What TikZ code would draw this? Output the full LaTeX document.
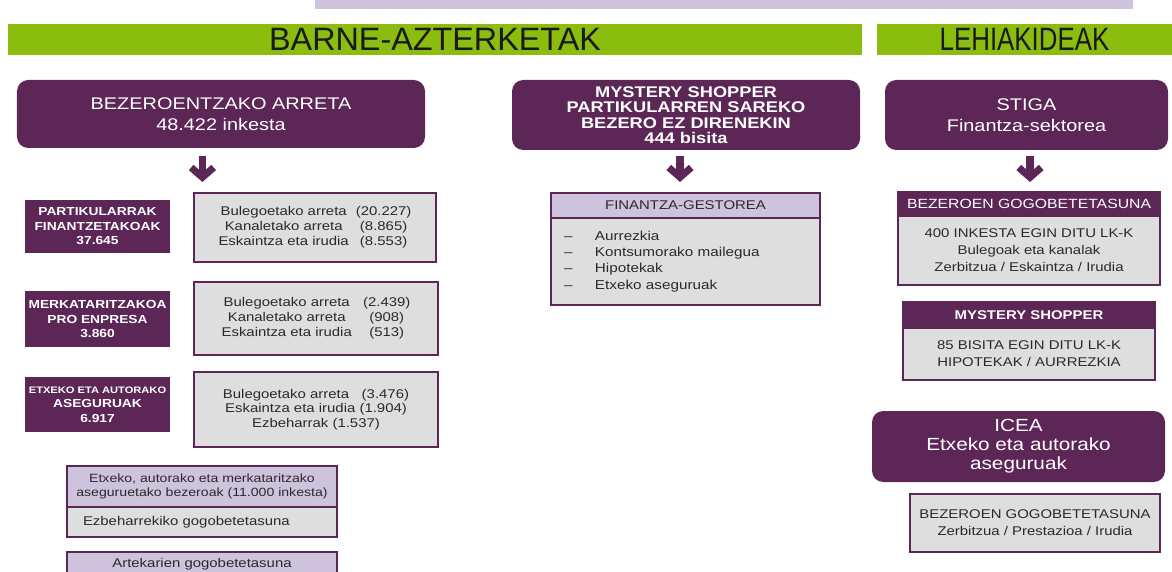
\documentclass[tikz,border=0pt]{standalone}
\usepackage{fontspec}
\setmainfont{Liberation Sans}[FakeStretch=1.18]
\newfontfamily\plainsans{Liberation Sans}
\newfontfamily\condsans{Liberation Sans}[FakeStretch=0.8]
\usetikzlibrary{positioning,arrows.meta}
\definecolor{purp}{RGB}{92,38,86}
\definecolor{lav}{RGB}{206,195,220}
\definecolor{lime}{RGB}{138,189,14}
\definecolor{boxgray}{RGB}{222,222,222}
\definecolor{ink}{RGB}{45,40,45}
\tikzset{
  band/.style  = {fill=lime, minimum height=0.775cm, inner sep=0pt,
                  text=black!90, font=\plainsans\fontsize{23}{26}\selectfont},
  mroot/.style = {rounded corners=8pt, fill=purp, text=white, align=center,
                  inner sep=2pt, font=\fontsize{12}{15}\selectfont},
  mtag/.style  = {fill=purp, text=white, align=center, inner sep=1pt,
                  minimum width=3.625cm, font=\bfseries\fontsize{8.3}{10.3}\selectfont},
  % boxes with a purple frame; outer sep 0 so stacked boxes share one edge
  gbox/.style  = {fill=boxgray, draw=purp, line width=1.6pt, outer sep=0pt,
                  align=center, inner sep=2pt, text=ink,
                  font=\fontsize{9}{10.5}\selectfont},
  hlav/.style  = {gbox, fill=lav},
  hpurp/.style = {gbox, fill=purp, text=white},
  chev/.style  = {draw=purp, line width=5pt,
                  -{Straight Barb[length=7pt, width=16pt]}},
}
\begin{document}
\begin{tikzpicture}
  \useasboundingbox (0,0) rectangle (29.3,-14.3);

  \node[fill=lav, minimum width=20.45cm, minimum height=0.225cm, inner sep=0pt,
        anchor=north west] (topbar) at (7.875,0) {};
  \node[band, minimum width=21.35cm] (barne) at (10.875,-0.99) {BARNE-AZTERKETAK};
  \node[band, minimum width=7.375cm, font=\condsans\fontsize{23}{26}\selectfont]
    (lehia) at (25.6125,-0.99) {LEHIAKIDEAK};

  % left column
  \node[mroot, minimum width=10.2cm, minimum height=1.7cm] (bez) at (5.525,-2.85)
    {BEZEROENTZAKO ARRETA\\48.422 inkesta};
  \coordinate (a1) at (5.06,-3.9);
  \coordinate (a1e) at (5.06,-4.55);
  \draw[chev] (a1) -- (a1e);

  \node[mtag, minimum height=1.325cm] (part) at (2.4375,-5.6625)
    {PARTIKULARRAK\\FINANTZETAKOAK\\37.645};
  \node[gbox, minimum width=6.05cm, minimum height=1.725cm] (part-d) at (7.875,-5.6875)
    {\begin{tabular}{@{}c@{\hspace{5pt}}c@{}}
      Bulegoetako arreta & (20.227)\\ Kanaletako arreta & (8.865)\\
      Eskaintza eta irudia & (8.553)\end{tabular}};

  \node[mtag, minimum height=1.4cm] (merk) at (2.4375,-7.975)
    {MERKATARITZAKOA\\PRO ENPRESA\\3.860};
  \node[gbox, minimum width=6.1cm, minimum height=1.825cm] (merk-d) at (7.9,-7.9625)
    {\begin{tabular}{@{}c@{\hspace{8pt}}c@{}}
      Bulegoetako arreta & (2.439)\\ Kanaletako arreta & (908)\\
      Eskaintza eta irudia & (513)\end{tabular}};

  \node[mtag, minimum height=1.375cm] (etx) at (2.4375,-10.1125)
    {{\fontsize{6.7}{10.3}\selectfont ETXEKO ETA AUTORAKO}\\ASEGURUAK\\6.917};
  \node[gbox, minimum width=6.1cm, minimum height=1.875cm] (etx-d) at (7.9,-10.2375)
    {Bulegoetako arreta\quad(3.476)\\Eskaintza eta irudia (1.904)\\Ezbeharrak (1.537)};

  \node[hlav, minimum width=6.75cm, minimum height=1.025cm,
        font=\fontsize{8.5}{9.8}\selectfont] (ins) at (5.05,-12.1625)
    {Etxeko, autorako eta merkataritzako\\aseguruetako bezeroak (11.000 inkesta)};
  \node[gbox, below=0pt of ins, minimum width=6.75cm, minimum height=0.75cm,
        text width=5.95cm, inner xsep=0.4cm, align=left] (ins-d)
    {Ezbeharrekiko gogobetetasuna};
  \node[hlav, minimum width=6.75cm, minimum height=0.6cm, anchor=north] (artek)
    at (5.05,-13.8) {Artekarien gogobetetasuna};

  % middle column
  \node[mroot, minimum width=8.7cm, minimum height=1.75cm,
        font=\bfseries\fontsize{11}{11}\selectfont] (mys) at (17.15,-2.875)
    {MYSTERY SHOPPER\\PARTIKULARREN SAREKO\\BEZERO EZ DIRENEKIN\\444 bisita};
  \coordinate (a2) at (17.0,-3.9);
  \coordinate (a2e) at (17.0,-4.55);
  \draw[chev] (a2) -- (a2e);

  \node[hlav, minimum width=6.725cm, minimum height=0.625cm] (fin) at (17.1375,-5.1375)
    {FINANTZA-GESTOREA};
  \node[gbox, below=0pt of fin, minimum width=6.725cm, minimum height=2.175cm,
        text width=6.075cm, inner xsep=0.325cm, align=left,
        font=\fontsize{9.2}{11.6}\selectfont] (fin-d)
    {\begin{tabular}{@{}l@{\hspace{16pt}}l@{}}
      -- & Aurrezkia\\ -- & Kontsumorako mailegua\\
      -- & Hipotekak\\ -- & Etxeko aseguruak\end{tabular}};

  % right column
  \node[mroot, minimum width=7.075cm, minimum height=1.75cm] (stiga) at (25.6625,-2.875)
    {STIGA\\Finantza-sektorea};
  \coordinate (a3) at (25.75,-3.9);
  \coordinate (a3e) at (25.75,-4.55);
  \draw[chev] (a3) -- (a3e);

  \node[hpurp, minimum width=6.55cm, minimum height=0.6cm,
        font=\fontsize{9.5}{11}\selectfont] (gogo) at (25.725,-5.1)
    {BEZEROEN GOGOBETETASUNA};
  \node[gbox, below=0pt of gogo, minimum width=6.55cm, minimum height=1.725cm,
        font=\fontsize{9}{12}\selectfont] (gogo-d)
    {400 INKESTA EGIN DITU LK-K\\Bulegoak eta kanalak\\Zerbitzua / Eskaintza / Irudia};

  \node[hpurp, minimum width=6.3cm, minimum height=0.65cm,
        font=\bfseries\fontsize{9}{10.5}\selectfont] (shop) at (25.725,-7.875)
    {MYSTERY SHOPPER};
  \node[gbox, below=0pt of shop, minimum width=6.3cm, minimum height=1.3cm,
        font=\fontsize{9}{12}\selectfont] (shop-d)
    {85 BISITA EGIN DITU LK-K\\HIPOTEKAK / AURREZKIA};

  \node[mroot, minimum width=7.325cm, minimum height=1.775cm,
        font=\fontsize{12.5}{13.5}\selectfont] (icea) at (25.4625,-11.1625)
    {ICEA\\Etxeko eta autorako\\aseguruak};
  \node[gbox, minimum width=6.25cm, minimum height=1.45cm,
        font=\fontsize{9}{12}\selectfont] (icea-d) at (25.875,-13.075)
    {BEZEROEN GOGOBETETASUNA\\Zerbitzua / Prestazioa / Irudia};
\end{tikzpicture}
\end{document}
